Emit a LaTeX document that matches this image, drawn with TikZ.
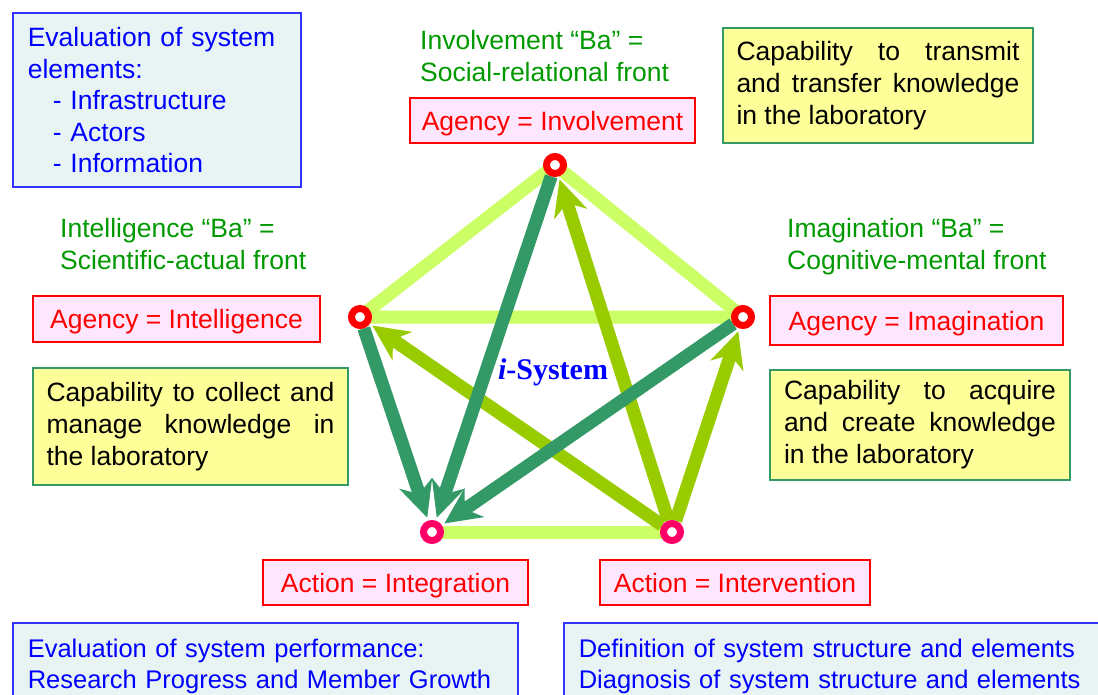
\documentclass[tikz,border=0pt]{standalone}
\usepackage{fontspec}
\setmainfont{Liberation Sans}
\newfontfamily\timesfont{Liberation Serif}
\usepackage{tikz}
\usetikzlibrary{arrows.meta,backgrounds}

\definecolor{vred}{HTML}{FF0000}
\definecolor{vpink}{HTML}{FF0066}
\definecolor{agencypink}{HTML}{FFE6FF}
\definecolor{capyellow}{HTML}{FFFF99}
\definecolor{capgreen}{HTML}{339966}
\definecolor{boxblue}{HTML}{3333FF}
\definecolor{boxcyan}{HTML}{E8F4F4}
\definecolor{txtblue}{HTML}{0000FF}
\definecolor{bagreen}{HTML}{009900}
\definecolor{frontgreen}{HTML}{CCFF66}
\definecolor{feedolive}{HTML}{99CC00}
\definecolor{pulldark}{HTML}{339966}

\begin{document}
\begin{tikzpicture}[x=1pt,y=-1pt,>={Stealth[length=36pt,width=34pt,inset=11pt]},
                    font=\fontsize{26.5}{32}\selectfont]
  \tikzstyle{vertex}=[circle,draw=vred,fill=white,line width=7pt,
                      minimum size=17pt,inner sep=0pt]
  \tikzstyle{agency}=[draw=vred,fill=agencypink,text=vred,line width=1.6pt,inner sep=0pt,
                      text depth=0pt]
  \tikzstyle{capbox}=[draw=capgreen,fill=capyellow,line width=1.6pt,align=justify,inner ysep=0pt]
  \tikzstyle{bluebox}=[draw=boxblue,fill=boxcyan,text=txtblue,line width=1.6pt,align=left]
  \tikzstyle{ba}=[text=bagreen,align=left,inner sep=0pt,anchor=north west]
  \tikzstyle{front}=[draw=frontgreen,line width=13pt,line join=round]
  \tikzstyle{feed}=[->,draw=feedolive,line width=13pt,shorten >=3pt]
  \tikzstyle{pull}=[->,draw=pulldark,line width=13pt,shorten >=3pt]

  \useasboundingbox (0,0) rectangle (1098,694);

  % the five fronts
  \node[vertex]            (inv)    at (555,165) {};
  \node[vertex]            (intel)  at (360,317) {};
  \node[vertex]            (imag)   at (743,317) {};
  \node[vertex,draw=vpink] (integ)  at (432,532) {};
  \node[vertex,draw=vpink] (interv) at (672,532) {};

  \begin{pgfonlayer}{background}
    \draw[front] (inv.center) -- (intel.center) -- (imag.center) -- cycle;
    \draw[front] (integ.center) -- (interv.center);
    \draw[feed] (interv) -- (inv);
    \draw[feed] (interv) -- (intel);
    \draw[feed] (interv) -- (imag);
    \draw[pull] (inv) -- (integ);
    \draw[pull] (intel) -- (integ);
    \draw[pull] (imag) -- (integ);
  \end{pgfonlayer}

  \node[text=txtblue,font=\fontsize{30}{32}\timesfont\bfseries] (isys) at (553,372)
       {\textit{i}-System};

  % agency and action boxes
  \node[agency,minimum width=285pt,minimum height=45pt] (agInv)    at (552.5,120.5) {Agency = Involvement};
  \node[agency,minimum width=287pt,minimum height=46pt] (agIntel)  at (176.5,319)   {Agency = Intelligence};
  \node[agency,minimum width=293pt,minimum height=49pt] (agImag)   at (916.5,320.5) {Agency = Imagination};
  \node[agency,minimum width=265pt,minimum height=45pt] (acInteg)  at (395.5,582.5) {Action = Integration};
  \node[agency,minimum width=270pt,minimum height=45pt] (acInterv) at (735,582.5)   {Action = Intervention};

  % "Ba" labels
  \node[ba] (baInv)   at (420,30)  {Involvement “Ba” =\\Social-relational front};
  \node[ba] (baIntel) at (60,218)  {Intelligence “Ba” =\\Scientific-actual front};
  \node[ba] (baImag)  at (787,218) {Imagination “Ba” =\\Cognitive-mental front};

  % capabilities
  \node[capbox,minimum width=310pt,minimum height=115pt,text width=283pt,inner xsep=13.5pt]
       (capInv) at (878,85.5) {Capability to transmit\linebreak and transfer knowledge\linebreak in the laboratory};
  \node[capbox,minimum width=315pt,minimum height=117pt,text width=288pt,inner xsep=13.5pt]
       (capIntel) at (190.5,426.5) {Capability to collect and\linebreak manage knowledge in\linebreak the laboratory};
  \node[capbox,minimum width=300pt,minimum height=110pt,text width=272pt,inner xsep=14pt]
       (capImag) at (920,425) {Capability to acquire\linebreak and create knowledge\linebreak in the laboratory};

  % evaluation boxes
  \node[bluebox,anchor=north west,text width=258pt,inner xsep=15pt,inner ysep=14.5pt,
        font=\fontsize{26.5}{31.5}\selectfont]
       (elements) at (12,12) {Evaluation of system\\elements:\\\hspace*{25pt}- Infrastructure\\
       \hspace*{25pt}- Actors\\\hspace*{25pt}- Information};
  \node[bluebox,anchor=north west,text width=475pt,inner xsep=15pt,inner ysep=16.5pt,
        font=\fontsize{25.5}{31}\selectfont]
       (perform) at (12,622) {Evaluation of system performance:\\Research Progress and Member Growth};
  \node[bluebox,anchor=north west,text width=530pt,inner xsep=15pt,inner ysep=16.5pt,
        font=\fontsize{25.5}{31}\selectfont]
       (structure) at (563,622) {Definition of system structure and elements\\Diagnosis of system structure and elements};
\end{tikzpicture}
\end{document}
